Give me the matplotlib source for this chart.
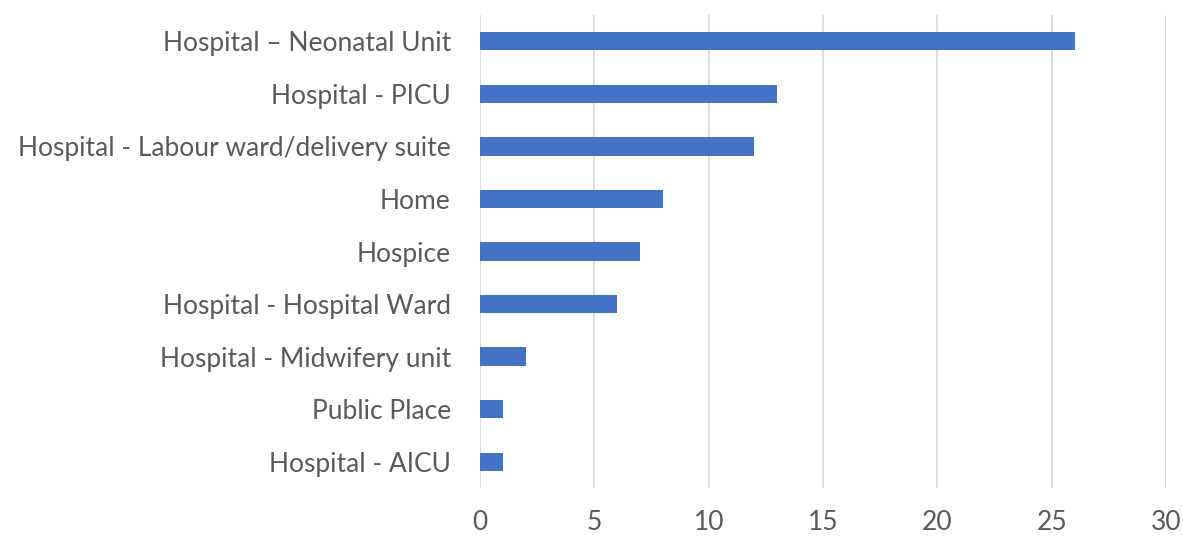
import matplotlib
matplotlib.use("Agg")
import matplotlib.pyplot as plt

categories = ["Hospital – Neonatal Unit", "Hospital - PICU", "Hospital - Labour ward/delivery suite",
              "Home", "Hospice", "Hospital - Hospital Ward", "Hospital - Midwifery unit",
              "Public Place", "Hospital - AICU"]
values = [26, 13, 12, 8, 7, 6, 2, 1, 1]
xticks = [0, 5, 10, 15, 20, 25, 30]

plt.rcParams['font.family'] = ['Lato', 'DejaVu Sans']
fig = plt.figure(figsize=(11.83, 5.37), dpi=100)
ax = fig.add_axes([480/1183, 1-488/537, (1166-480)/1183, (488-15)/537])

ypos = list(range(len(categories)))[::-1]
ax.barh(ypos, values, height=0.35, color="#4472C4", zorder=3)
ax.set_yticks(ypos)
ax.set_yticklabels(categories)
ax.set_ylim(-0.5, len(categories)-0.5)
ax.set_xlim(0, 30)
ax.set_xticks(xticks)
ax.grid(axis='x', color='#D9D9D9', linewidth=1.3, zorder=0)
for s in ax.spines.values():
    s.set_visible(False)
ax.tick_params(axis='both', length=0, labelsize=19, labelcolor='#595959')
ax.tick_params(axis='y', pad=21)
ax.tick_params(axis='x', pad=16)
fig.savefig("out.png", dpi=100)
